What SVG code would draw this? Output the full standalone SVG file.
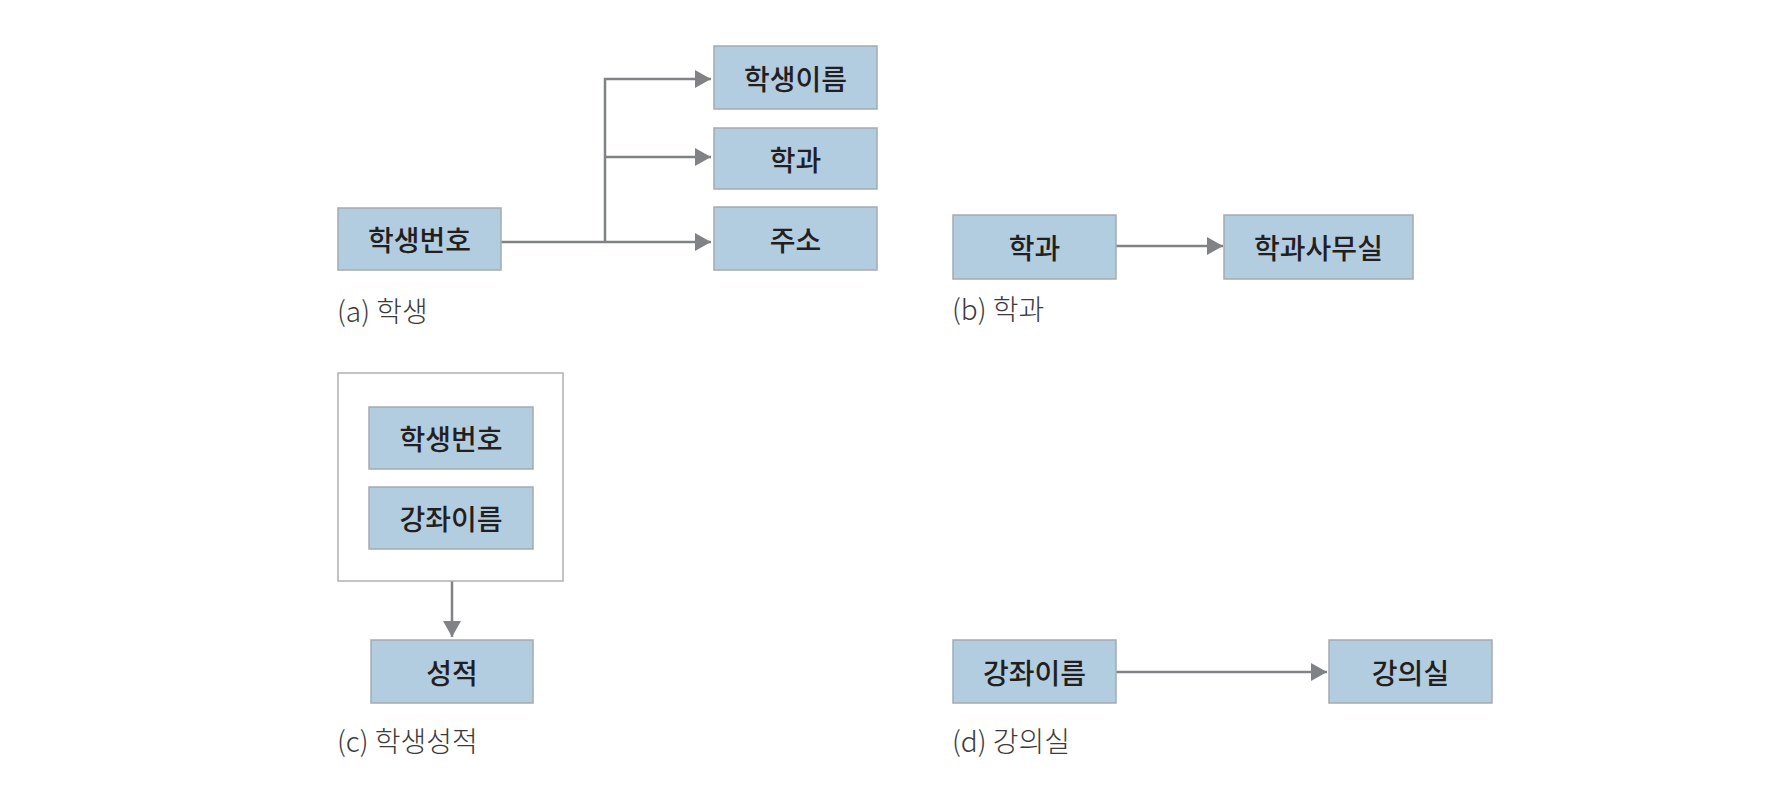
<svg xmlns="http://www.w3.org/2000/svg" width="1790" height="804" viewBox="0 0 1790 804">
<style>
.box{fill:#b3cde0;stroke:#a3abb2;stroke-width:1.5}
.outer{fill:#ffffff;stroke:#b0b0b0;stroke-width:1.5}
.t{font-family:"Noto Sans CJK KR","Noto Sans",sans-serif;font-size:28px;font-weight:500;fill:#231f20;text-anchor:middle;dominant-baseline:central}
.lbl{font-family:"Noto Sans CJK KR","Noto Sans",sans-serif;font-size:28px;font-weight:300;fill:#3a3a3a}
.c{fill:none;stroke:#808285;stroke-width:2.5}
</style>
<defs>
<marker id="ah" viewBox="0 0 16 18" refX="16" refY="9" markerWidth="16" markerHeight="18" markerUnits="userSpaceOnUse" orient="auto">
<path d="M0,0 L16,9 L0,18 Z" fill="#808285"/>
</marker>
</defs>
<rect width="1790" height="804" fill="#ffffff"/>
<g id="connectors">
<path class="c" d="M501,242 L711,242" marker-end="url(#ah)"/>
<path class="c" d="M605,242 L605,79 L711,79" marker-end="url(#ah)"/>
<path class="c" d="M605,157 L711,157" marker-end="url(#ah)"/>
<path class="c" d="M1116,246 L1223,246" marker-end="url(#ah)"/>
<path class="c" d="M452,581 L452,637" marker-end="url(#ah)"/>
<path class="c" d="M1116,672 L1327,672" marker-end="url(#ah)"/>
</g>
<g id="n-a-id"><rect class="box" x="338" y="208" width="163" height="62"/><text class="t" x="419.5" y="239">학생번호</text></g>
<g id="n-a-name"><rect class="box" x="714" y="46" width="163" height="63"/><text class="t" x="795.5" y="77.5">학생이름</text></g>
<g id="n-a-dept"><rect class="box" x="714" y="128" width="163" height="61"/><text class="t" x="795.5" y="158.5">학과</text></g>
<g id="n-a-addr"><rect class="box" x="714" y="207" width="163" height="63"/><text class="t" x="795.5" y="238.5">주소</text></g>
<g id="lbl-a"><text class="lbl" x="337" y="322">(a) 학생</text></g>
<g id="n-b-dept"><rect class="box" x="953" y="215" width="163" height="64"/><text class="t" x="1034.5" y="247">학과</text></g>
<g id="n-b-office"><rect class="box" x="1224" y="215" width="189" height="64"/><text class="t" x="1318.5" y="247">학과사무실</text></g>
<g id="lbl-b"><text class="lbl" x="952" y="320">(b) 학과</text></g>
<g id="n-c-key"><rect class="outer" x="338" y="373" width="225" height="208"/>
<rect class="box" x="369" y="407" width="164" height="62"/><text class="t" x="451" y="438">학생번호</text>
<rect class="box" x="369" y="487" width="164" height="62"/><text class="t" x="451" y="518">강좌이름</text></g>
<g id="n-c-grade"><rect class="box" x="371" y="640" width="162" height="63"/><text class="t" x="452" y="671.5">성적</text></g>
<g id="lbl-c"><text class="lbl" x="337" y="752">(c) 학생성적</text></g>
<g id="n-d-course"><rect class="box" x="953" y="640" width="163" height="63"/><text class="t" x="1034.5" y="671.5">강좌이름</text></g>
<g id="n-d-room"><rect class="box" x="1329" y="640" width="163" height="63"/><text class="t" x="1410.5" y="671.5">강의실</text></g>
<g id="lbl-d"><text class="lbl" x="952" y="752">(d) 강의실</text></g>
</svg>
